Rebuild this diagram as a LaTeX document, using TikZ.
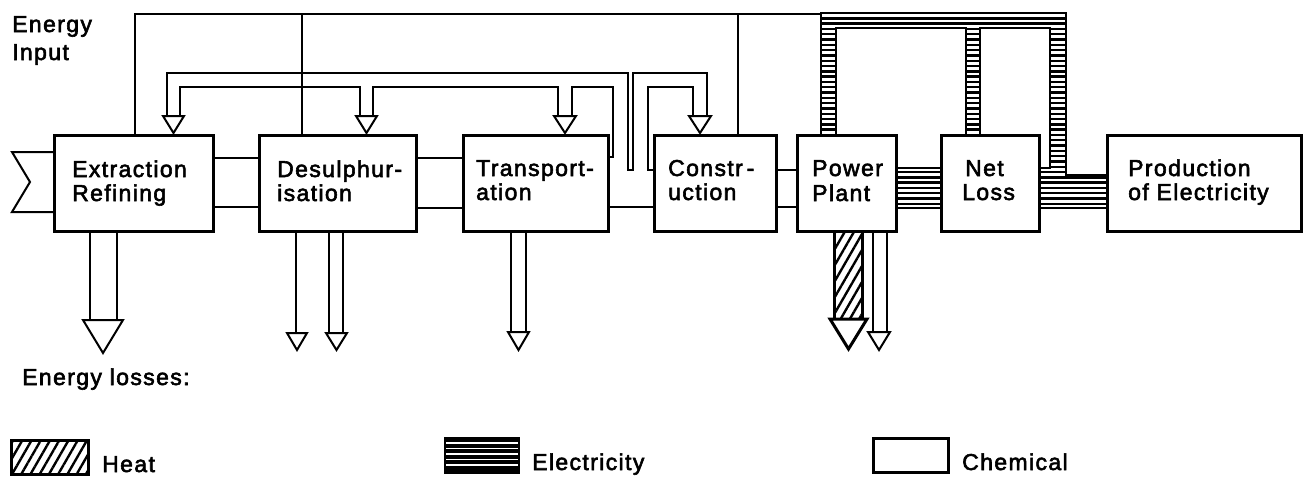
\documentclass[tikz,border=0pt]{standalone}
\usepackage{fontspec}
\setmainfont{Liberation Sans}[LetterSpace=6,FakeBold=2.5]
\usetikzlibrary{patterns.meta}
\newcommand\dtri[5][]{\draw[tri,#1] (#2,#4) -- (#3,#4) -- ({(#2+#3)/2},#5) -- cycle;}
\begin{document}
\begin{tikzpicture}[x=1pt,y=-1pt,
  box/.style={draw, line width=3pt, anchor=north west, inner sep=0pt},
  lbl/.style={anchor=base west, inner sep=0pt, font=\fontsize{23}{28}\selectfont},
  wire/.style={line width=2pt, line join=miter},
  eline/.style={line width=2.8pt, line join=miter},
  stripe/.style={line width=2.4pt},
  tri/.style={line width=2pt, fill=white, line join=miter},
  heat/.style={pattern={Lines[angle=60,distance=8pt,line width=2.4pt]}},
]
\useasboundingbox (0,0) rectangle (1305,479);

% ---------- boxes ----------
\node[box, minimum width=159pt, minimum height=96pt] (ext)  at (53,134)  {};
\node[box, minimum width=157pt, minimum height=96pt] (des)  at (258,134) {};
\node[box, minimum width=145pt, minimum height=96pt] (tra)  at (462,134) {};
\node[box, minimum width=122pt, minimum height=96pt] (con)  at (653,134) {};
\node[box, minimum width=99pt,  minimum height=96pt] (pp)   at (796,134) {};
\node[box, minimum width=98pt,  minimum height=96pt] (nl)   at (940,134) {};
\node[box, minimum width=194pt, minimum height=96pt] (prod) at (1106,134) {};

% ---------- input chevron ----------
\coordinate (in1) at (12,152);
\coordinate (in2) at (30,182);
\coordinate (in3) at (12,212);
\draw[wire] (ext.west |- 0,152) -- (in1) -- (in2) -- (in3) -- (ext.west |- 0,212);

% ---------- connections between boxes ----------
\draw[wire] (ext.east |- 0,158) -- (des.west |- 0,158);
\draw[wire] (ext.east |- 0,207) -- (des.west |- 0,207);
\draw[wire] (des.east |- 0,158) -- (tra.west |- 0,158);
\draw[wire] (des.east |- 0,208) -- (tra.west |- 0,208);
\draw[wire] (tra.east |- 0,207) -- (con.west |- 0,207);
\draw[wire] (con.east |- 0,170) -- (pp.west |- 0,170);
\draw[wire] (con.east |- 0,207) -- (pp.west |- 0,207);

% ---------- thin electricity supply line ----------
\coordinate (etop) at (821,14);
\draw[wire] (ext.north -| 135,0) -- (135,14) -- (etop);
\draw[wire] (302,14) -- (des.north -| 302,0);
\draw[wire] (738,14) -- (con.north -| 738,0);

% ---------- chemical pipe network on top ----------
\draw[wire] (167,116) -- (167,73) -- (628,73) -- (628,170) -- (633,170) -- (633,73) -- (707,73) -- (707,116);
\draw[wire] (180,116) -- (180,87) -- (360,87) -- (360,116);
\draw[wire] (373,116) -- (373,87) -- (558,87) -- (558,116);
\draw[wire] (572,116) -- (572,87) -- (613,87) -- (613,157) -- (tra.east |- 0,157);
\draw[wire] (con.west |- 0,170) -- (648,170) -- (648,87) -- (693,87) -- (693,116);
\dtri{163}{184}{116}{133}
\dtri{356}{377}{116}{133}
\dtri{554}{576}{116}{133}
\dtri{689}{711}{116}{133}

% ---------- electricity network ----------
\begin{scope}
  \clip (821,13) -- (1066,13) -- (1066,175) -- (1106,175) -- (1106,208) -- (1038,208)
    -- (1038,168) -- (1050,168) -- (1050,28) -- (980,28) -- (980,134) -- (966,134)
    -- (966,28) -- (836,28) -- (836,134) -- (821,134) -- cycle
    (895,168) rectangle (940,208);
  \foreach \yy in {13,18.3,...,212} \draw[stripe] (815,\yy) -- (1110,\yy);
\end{scope}
\draw[eline] (pp.north -| 821,0) -- (821,13) -- (1066,13) -- (1066,175) -- (prod.west |- 0,175);
\draw[eline] (prod.west |- 0,208) -- (nl.east |- 0,208);
\draw[eline] (nl.east |- 0,168) -- (1050,168) -- (1050,28) -- (980,28) -- (nl.north -| 980,0);
\draw[eline] (nl.north -| 966,0) -- (966,28) -- (836,28) -- (pp.north -| 836,0);
\draw[eline] (pp.east |- 0,168) -- (nl.west |- 0,168);
\draw[eline] (pp.east |- 0,208) -- (nl.west |- 0,208);

% ---------- losses ----------
\draw[wire] (ext.south -| 90,0) -- (90,320);
\draw[wire] (ext.south -| 117,0) -- (117,320);
\dtri{83}{123}{320}{353}
\draw[wire] (des.south -| 296,0) -- (296,333);
\dtri{287}{307}{333}{350}
\draw[wire] (des.south -| 329,0) -- (329,333);
\draw[wire] (des.south -| 343,0) -- (343,333);
\dtri{326}{347}{333}{350}
\draw[wire] (tra.south -| 511,0) -- (511,332);
\draw[wire] (tra.south -| 526,0) -- (526,332);
\dtri{508}{529}{332}{350}
\fill[heat] (834,231) rectangle (862,319);
\draw[wire, line width=3pt] (pp.south -| 834,0) -- (834,319);
\draw[wire, line width=3pt] (pp.south -| 862,0) -- (862,319);
\dtri[line width=3pt]{830}{867}{319}{349}
\draw[wire] (pp.south -| 873,0) -- (873,332);
\draw[wire] (pp.south -| 887,0) -- (887,332);
\dtri{868}{890}{332}{350}

% ---------- labels ----------
\node[lbl] (tEn)  at (12,32)  {Energy};
\node[lbl] (tIn)  at (12,60)  {Input};
\node[lbl] (t1a)  at (72,177)  {Extraction};
\node[lbl] (t1b)  at (72,201)  {Refining};
\node[lbl] (t2a)  at (277,177) {Desulphur-};
\node[lbl] (t2b)  at (277,201) {isation};
\node[lbl] (t3a)  at (476,176) {Transport-};
\node[lbl] (t3b)  at (476,200) {ation};
\node[lbl] (t4a)  at (668,176) {Constr\,-};
\node[lbl] (t4b)  at (668,200) {uction};
\node[lbl] (t5a)  at (812,176) {Power};
\node[lbl] (t5b)  at (812,201) {Plant};
\node[lbl] (t6a)  at (965,176) {Net};
\node[lbl] (t6b)  at (962,200) {Loss};
\node[lbl] (t7a)  at (1128,176) {Production};
\node[lbl] (t7b)  at (1128,200) {of Electricity};
\node[lbl] (tLoss) at (22,385) {Energy losses:};

% ---------- legend ----------
\node[draw, line width=3pt, minimum width=77pt, minimum height=34pt, inner sep=0pt, anchor=north west,
      heat] (lgHeat) at (10,439) {};
\node[lbl] (tHeat) at (102,472) {Heat};
\node[draw, line width=2.5pt, fill=black, minimum width=73pt, minimum height=34pt, inner sep=0pt, anchor=north west] (lgElec) at (444,437) {};
\foreach \yy in {443,448.5,...,467} \draw[white, line width=1.6pt] ([xshift=2pt]lgElec.west |- 0,\yy) -- ([xshift=-2pt]lgElec.east |- 0,\yy);
\node[lbl] (tElec) at (532,470) {Electricity};
\node[draw, line width=3pt, minimum width=75pt, minimum height=34pt, inner sep=0pt, anchor=north west] (lgChem) at (872,437) {};
\node[lbl] (tChem) at (962,470) {Chemical};
\end{tikzpicture}
\end{document}
